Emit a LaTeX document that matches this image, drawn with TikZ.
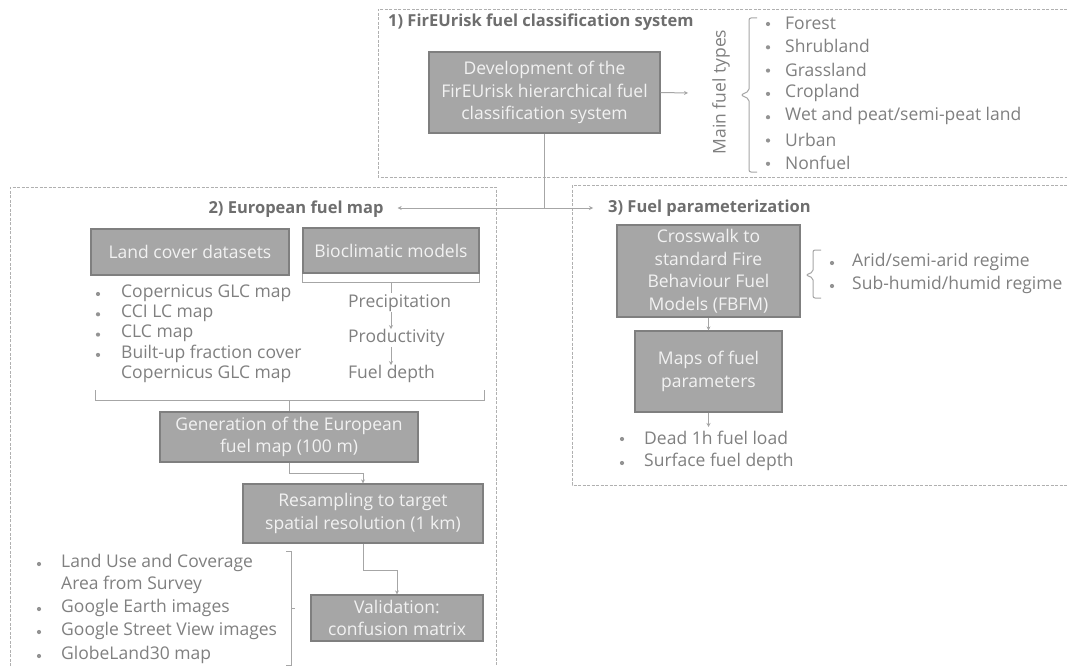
\documentclass[tikz,border=0pt]{standalone}
\usepackage{fontspec}
\setmainfont{Open Sans}
\usetikzlibrary{arrows.meta}
\definecolor{boxfill}{HTML}{A6A6A6}
\definecolor{boxline}{HTML}{7F7F7F}
\definecolor{boxtext}{HTML}{F2F2F2}
\definecolor{txtgray}{HTML}{808080}
\definecolor{ttlgray}{HTML}{6E6E6E}
\definecolor{linegray}{HTML}{A6A6A6}
\definecolor{dashgray}{HTML}{B0B0B0}
\tikzset{
  x=1pt, y=-1pt,
  stepbox/.style={draw=boxline, fill=boxfill, text=boxtext, line width=1.2pt,
    align=center, inner sep=0pt, font=\fontsize{17.5}{22.5}\selectfont},
  plain/.style={text=txtgray, anchor=west, inner sep=0pt, font=\fontsize{17.5}{22.5}\selectfont},
  bul/.style={circle, fill=txtgray!85, inner sep=0pt, minimum size=4.2pt},
  ttl/.style={text=ttlgray, inner sep=0pt, font=\fontsize{16.5}{20}\selectfont\bfseries},
  conn/.style={draw=linegray, line width=1pt},
  arr/.style={conn, -{Stealth[length=4pt,width=4pt]}},
  dashbox/.style={draw=dashgray, line width=0.9pt, dash pattern=on 3pt off 1.5pt},
}
\begin{document}
\begin{tikzpicture}
\useasboundingbox[fill=white] (0,0) rectangle (1067,666);
% dashed frames
\draw[dashbox] (1067,9) -- (378,9) -- (378,177) -- (1067,177);
\draw[dashbox] (10,666) -- (10,187) -- (496,187) -- (496,666);
\draw[dashbox] (1067,185) -- (572,185) -- (572,485) -- (1067,485);

% ---- section 1
\node[ttl, anchor=west] (t1) at (388,22) {1) FirEUrisk fuel classification system};
\node[stepbox, minimum width=231pt, minimum height=81pt] (dev) at (544.5,92.5)
  {Development of the\\FirEUrisk hierarchical fuel\\classification system};
\coordinate (mftarr) at (688,93);
\node[plain, anchor=center, rotate=90] (mft) at (721,92) {Main fuel types};
\draw[arr] (dev.east) -- (mftarr);
\draw[conn, rounded corners=2pt] (757,18) -- (749,18) -- (749,91) -- (741,95) -- (749,99) -- (749,172) -- (757,172);
\foreach \t [count=\i] in {Forest,Shrubland,Grassland,Cropland,Wet and peat/semi-peat land,Urban,Nonfuel}{
  \node[bul] (b1\i) at (768,{24+23.3*(\i-1)}) {};
  \node[plain] (l1\i) at (785,{23+23.3*(\i-1)}) {\t};
}
% junction
\coordinate (jn) at (dev.south |- 0,208);
\node[ttl] (t2) at (296,209) {2) European fuel map};
\node[ttl, anchor=west] (t3) at (608,208) {3) Fuel parameterization};
\draw[conn] (dev.south) -- (jn);
\draw[arr] (jn) -- ([xshift=14pt]t2.east |- jn);
\draw[arr] (jn) -- ([xshift=-15pt]t3.west);

% ---- section 2
\node[stepbox, minimum width=198pt, minimum height=46pt] (lc) at (190,252) {Land cover datasets};
\node[stepbox, minimum width=176pt, minimum height=45pt] (bio) at (391,250.5) {Bioclimatic models};
\draw[conn] (bio.south west) -- ++(0,9) -| (bio.south east);
\draw[conn] (bio.south) ++(0,9) -- ++(0,10);
\foreach \t [count=\i] in {Copernicus GLC map,CCI LC map,CLC map,Built-up fraction cover}{
  \node[bul] (b2\i) at (98,{294+20.3*(\i-1)}) {};
  \node[plain] (l2\i) at (121,{293+20.3*(\i-1)}) {\t};
}
\node[plain] (l25) at (121,374) {Copernicus GLC map};
\node[plain] (prec) at (348,303) {Precipitation};
\node[plain] (prod) at (348,338) {Productivity};
\node[plain] (fdep) at (348,374) {Fuel depth};
\draw[arr] (prec.south -| bio.south) -- (prod.north -| bio.south);
\draw[arr] (prod.south -| bio.south) -- (fdep.north -| bio.south);
\node[stepbox, minimum width=258pt, minimum height=50pt] (gen) at (289,437)
  {Generation of the European\\fuel map (100 m)};
\coordinate (brl) at (95,390);
\coordinate (brr) at (484,390);
\draw[conn] (brl) -- ++(0,10) -| (brr);
\draw[conn] (gen.north |- 0,400) -- (gen.north);
\node[stepbox, minimum width=240pt, minimum height=59pt] (res) at (363,513.5)
  {Resampling to target\\spatial resolution (1 km)};
\node[stepbox, minimum width=172pt, minimum height=46pt] (val) at (397,618)
  {Validation:\\confusion matrix};
\draw[arr] (gen.south) -- ++(0,11) -| (res.north);
\draw[arr] (res.south) -- ++(0,27) -| (val.north);
\node[bul] (b31) at (39,564) {};
\node[plain] (l31) at (61,563) {Land Use and Coverage};
\node[plain] (l32) at (61,585) {Area from Survey};
\node[bul] (b33) at (39,609) {};
\node[plain] (l33) at (61,608) {Google Earth images};
\node[bul] (b34) at (39,632) {};
\node[plain] (l34) at (61,631) {Google Street View images};
\node[bul] (b35) at (39,656) {};
\node[plain] (l35) at (61,655) {GlobeLand30 map};
\draw[conn] (286,551) -- (291,551) -- (291,665) -- (286,665);
\draw[conn] (291,608) -- (295,608);

% ---- section 3
\node[stepbox, minimum width=183pt, minimum height=92pt] (cw) at (708.5,271)
  {Crosswalk to\\standard Fire\\Behaviour Fuel\\Models (FBFM)};
\node[stepbox, minimum width=147pt, minimum height=81pt] (maps) at (708.5,371.5)
  {Maps of fuel\\parameters};
\draw[arr] (cw.south) -- (maps.north);
\coordinate (mapsarr) at (708.5,427);
\draw[arr] (maps.south) -- (mapsarr);
\draw[conn, rounded corners=2pt] (821,250) -- (813,250) -- (813,272) -- (806,275) -- (813,278) -- (813,298) -- (821,298);
\node[bul] (b41) at (832,263) {};
\node[plain] (l41) at (852,262) {Arid/semi-arid regime};
\node[bul] (b42) at (832,286) {};
\node[plain] (l42) at (852,285) {Sub-humid/humid regime};
\node[bul] (b51) at (622,439) {};
\node[plain] (l51) at (644,438) {Dead 1h fuel load};
\node[bul] (b52) at (622,463) {};
\node[plain] (l52) at (644,462) {Surface fuel depth};
\end{tikzpicture}
\end{document}
